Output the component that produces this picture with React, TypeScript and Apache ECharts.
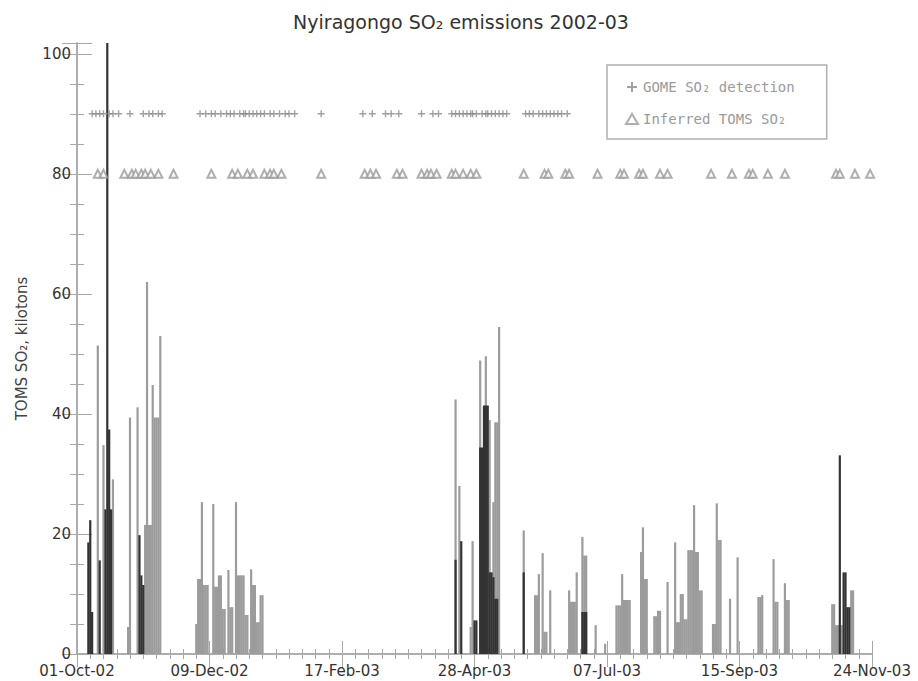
import React, { useEffect, useRef } from 'react';
import * as echarts from 'echarts';

// x axis: days since 01-Oct-2002
const xTickLabels = ['01-Oct-02', '09-Dec-02', '17-Feb-03', '28-Apr-03', '07-Jul-03', '15-Sep-03', '24-Nov-03'];
const xTickStep = 70;
const xMax = 420;
const yMax = 101.8;

// [day, kilotons] — lighter grey bars
const greyBars: [number, number][] = [
  [11, 51.4], [14, 34.8], [19, 29.1], [27, 4.5], [28, 39.4], [32, 41.1], [36, 21.5], [37, 62], [38, 21.5],
  [39, 21.5], [40, 44.8], [41, 39.4], [42, 39.4], [43, 39.4], [44, 53],
  [63, 5], [64, 12.5], [65, 12.5], [66, 25.3], [67, 11.5], [68, 11.5], [69, 11.5], [72, 25], [73, 11.2],
  [74, 11.2], [75, 13.1], [76, 13.1], [77, 7.5], [78, 7.5], [80, 14], [81, 7.8], [82, 7.8], [84, 25.3],
  [85, 13.1], [86, 13.1], [87, 13.1], [88, 13.1], [89, 6.5], [90, 6.5], [92, 14.1], [93, 11.5], [94, 11.5],
  [95, 5.3], [96, 5.3], [97, 9.8], [98, 9.8],
  [200, 42.4], [202, 28], [208, 4.5], [209, 18.8], [213, 48.9], [216, 49.6], [218, 39], [220, 25.3],
  [221, 38.6], [222, 38.6], [223, 54.5],
  [236, 20.6], [242, 9.8], [243, 9.8], [244, 13.3], [246, 16.8], [247, 3.7], [248, 3.7], [250, 10.6],
  [260, 10.6], [261, 8.7], [262, 8.7], [263, 8.7], [264, 13.6], [267, 19.5], [268, 16.4], [269, 16.4],
  [274, 4.8], [279, 1.7], [285, 8.1], [286, 8.1], [287, 8.1], [288, 13.3], [289, 9], [290, 9], [291, 9],
  [292, 9], [298, 17], [299, 21.1], [300, 12.5], [301, 12.5], [305, 6.3], [306, 6.3], [307, 7.2], [308, 7.2],
  [312, 12], [316, 18.6], [317, 5.3], [318, 5.3], [319, 10], [320, 10], [321, 5.8], [322, 5.8], [323, 17.3],
  [324, 17.3], [325, 17.3], [326, 24.8], [327, 17], [328, 17], [329, 10.6], [330, 10.6], [336, 5], [337, 5],
  [338, 25.1], [339, 19], [340, 19], [345, 9.2], [349, 16.1], [360, 9.5], [361, 9.5], [362, 9.8], [368, 15.8],
  [369, 8.7], [370, 8.7], [374, 11.8], [375, 9], [376, 9], [399, 8.3], [400, 8.3], [401, 4.8], [402, 4.8],
  [404, 4.8], [409, 10.6], [410, 10.6],
];

// [day, kilotons] — dark bars
const darkBars: [number, number][] = [
  [6, 18.6], [7, 22.3], [8, 7], [12, 15.6], [15, 24.1], [16, 101.8], [17, 37.4], [18, 24.1],
  [33, 19.8], [34, 13.1], [35, 11.5],
  [200, 15.7], [203, 18.8], [210, 5.6], [211, 5.6], [213, 34.4], [214, 34.4], [215, 41.4], [216, 41.4],
  [217, 41.4], [218, 13.6], [219, 13.6], [220, 12.8], [221, 9.2], [222, 9.2],
  [236, 13.6], [267, 7], [268, 7], [269, 7],
  [403, 33.1], [405, 13.6], [406, 13.6], [407, 7.8], [408, 7.8],
];

// days with GOME SO2 detection (plotted at 90) and inferred TOMS SO2 (plotted at 80)
const gomeLevel = 90;
const tomsLevel = 80;
const gomeDays = [8, 10, 12, 14, 17, 19, 22, 28, 35, 38, 40, 43, 45, 65, 68, 71, 73, 76, 79, 81, 83, 86, 88, 89,
  91, 93, 95, 97, 99, 102, 104, 107, 110, 112, 115, 129, 151, 156, 163, 166, 170, 182, 188, 191, 198, 200, 202,
  204, 206, 208, 209, 211, 214, 216, 217, 219, 221, 223, 225, 227, 237, 239, 241, 244, 246, 248, 250, 252, 254,
  256, 259];
const tomsDays = [11, 14, 25, 29, 31, 34, 36, 39, 43, 51, 71, 82, 85, 90, 93, 99, 102, 104, 108, 129, 152, 155,
  158, 169, 172, 182, 185, 187, 190, 198, 200, 204, 208, 211, 236, 247, 249, 258, 260, 275, 287, 289, 297, 299,
  308, 312, 335, 346, 355, 357, 365, 374, 401, 403, 411, 419];

const FONT = 'DejaVu Sans';
const AXIS_GREY = '#a8a8a8';

export default function App() {
  const ref = useRef<HTMLDivElement>(null);
  useEffect(() => {
    if (!ref.current) return;
    const chart = echarts.init(ref.current, undefined, { renderer: 'svg' });
    const xCommon = {
      type: 'value' as const,
      min: 0,
      max: xMax,
      interval: xTickStep,
      splitLine: { show: false },
      axisLine: { show: true, lineStyle: { color: AXIS_GREY, width: 1.5 } },
      axisTick: { show: true, inside: true, length: 13, lineStyle: { color: AXIS_GREY } },
      minorTick: { show: true, splitNumber: 10, length: 5, lineStyle: { color: AXIS_GREY } },
    };
    const yCommon = {
      type: 'value' as const,
      min: 0,
      max: yMax,
      interval: 20,
      splitLine: { show: false },
      axisLine: { show: true, lineStyle: { color: AXIS_GREY, width: 1.5 } },
      axisTick: { show: true, inside: true, length: 15, lineStyle: { color: AXIS_GREY } },
      minorTick: { show: true, splitNumber: 4, length: 7, lineStyle: { color: AXIS_GREY } },
    };
    chart.setOption({
      animation: false,
      backgroundColor: '#fff',
      title: {
        text: 'Nyiragongo SO₂ emissions 2002-03',
        left: 456,
        textAlign: 'center',
        top: 7,
        textStyle: { fontFamily: FONT, fontSize: 19, fontWeight: 'normal', color: '#333' },
      },
      legend: {
        orient: 'vertical',
        left: 607,
        top: 65,
        padding: [15, 32, 13, 18],
        itemGap: 18,
        itemWidth: 12,
        itemHeight: 10,
        borderColor: '#b0b0b0',
        borderWidth: 1.5,
        data: ['GOME SO₂ detection', 'Inferred TOMS SO₂'],
        textStyle: { fontFamily: 'DejaVu Sans Mono', fontSize: 14, color: '#9a9a9a' },
      },
      grid: { left: 77, right: 46, top: 43, bottom: 27 },
      xAxis: [
        {
          ...xCommon,
          position: 'bottom',
          axisLabel: {
            show: true,
            margin: 9,
            fontFamily: FONT,
            fontSize: 15,
            color: '#333',
            formatter: (v: number) => xTickLabels[Math.round(v / xTickStep)] ?? '',
          },
        },
        { ...xCommon, position: 'top', axisLabel: { show: false } },
      ],
      yAxis: [
        {
          ...yCommon,
          position: 'left',
          name: 'TOMS SO₂, kilotons',
          nameLocation: 'middle',
          nameGap: 48,
          nameTextStyle: { fontFamily: FONT, fontSize: 15, color: '#444' },
          axisLabel: {
            show: true,
            margin: 6,
            fontFamily: FONT,
            fontSize: 15,
            color: '#333',
            padding: [0, 0, 6, 0],
            formatter: (v: number) => (Math.abs(v % 20) < 1e-6 ? String(v) : ''),
          },
        },
        { ...yCommon, position: 'right', axisLabel: { show: false } },
      ],
      series: [
        {
          name: 'grey',
          type: 'bar',
          xAxisIndex: 0,
          yAxisIndex: 0,
          barWidth: 2.2,
          barGap: '-100%',
          itemStyle: { color: '#9c9c9c' },
          data: greyBars,
          z: 2,
        },
        {
          name: 'dark',
          type: 'bar',
          xAxisIndex: 0,
          yAxisIndex: 0,
          barWidth: 2.2,
          barGap: '-100%',
          itemStyle: { color: '#333333' },
          data: darkBars,
          z: 3,
        },
        {
          name: 'GOME SO₂ detection',
          type: 'scatter',
          symbol: 'path://M4,0H6V4H10V6H6V10H4V6H0V4H4Z',
          symbolSize: 7,
          itemStyle: { color: '#8a8a8a' },
          data: gomeDays.map((d) => [d, gomeLevel]),
          z: 4,
        },
        {
          name: 'Inferred TOMS SO₂',
          type: 'scatter',
          symbol: 'emptyTriangle',
          symbolSize: 8,
          itemStyle: { color: '#9a9a9a', borderWidth: 1 },
          data: tomsDays.map((d) => [d, tomsLevel]),
          z: 4,
        },
      ],
    });
    return () => chart.dispose();
  }, []);
  return (
    <div
      ref={ref}
      style={{ position: 'fixed', left: 0, top: 0, width: 918, height: 681, background: '#fff' }}
    />
  );
}
